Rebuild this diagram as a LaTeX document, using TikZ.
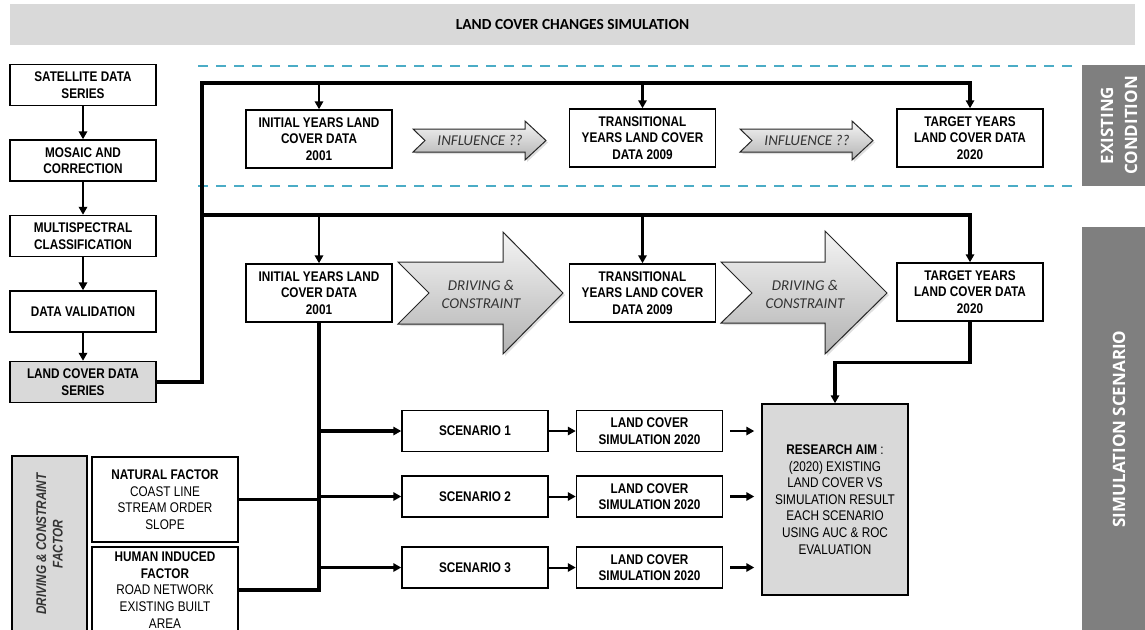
\documentclass[tikz,border=0pt]{standalone}
\usepackage{fontspec}
\setmainfont{Liberation Sans}[FakeStretch=0.84]
\newfontfamily\calfont{Carlito}
\newfontfamily\opfont{Open Sans}
\usetikzlibrary{arrows.meta,positioning,shadows}
\definecolor{guide}{RGB}{75,172,198}
\definecolor{panel}{RGB}{217,217,217}
\definecolor{side}{RGB}{127,127,127}

\begin{document}
\begin{tikzpicture}[x=0.5pt, y=-0.5pt,
  node distance=16.5pt,
  box/.style={draw, line width=0.75pt, fill=white, minimum width=73pt,
              minimum height=20.5pt, inner sep=1pt, align=center,
              font=\bfseries\fontsize{7}{8.3}\selectfont},
  yearbox/.style={box, minimum height=29pt},
  shadebox/.style={box, fill=panel},
  plain/.style={box, font=\fontsize{7}{8.3}\selectfont},
  sidebar/.style={fill=side, text=white, rotate=90, align=center, inner sep=0pt,
                  minimum height=37pt, font=\opfont\bfseries\fontsize{8.5}{12}\selectfont},
  bus/.style={line width=1.7pt},
  arrow/.style={-{Triangle[length=4pt,width=4.2pt]}, line width=1.3pt},
  chevron/.style={draw=black!85, line width=0.5pt, top color=black!4, bottom color=black!30,
                  drop shadow={opacity=0.25, shadow xshift=1pt, shadow yshift=-1pt}},
  chevtext/.style={font=\calfont\itshape\fontsize{7.5}{9}\selectfont, text=black!80, align=center},
  guideline/.style={draw=guide, dash pattern=on 5pt off 4pt, line width=1pt}]

\clip (0,0) rectangle (1145,629);

% title bar
\node[fill=panel, minimum width=562.5pt, minimum height=20.5pt,
      font=\calfont\bfseries\fontsize{7.7}{9}\selectfont] (title) at (572.5,24.5)
  {LAND COVER CHANGES SIMULATION};

% data preparation column
\node[box] (sat) at (83,85) {SATELLITE DATA\\SERIES};
\node[box, below=of sat] (mos) {MOSAIC AND\\CORRECTION};
\node[box, below=of mos] (msc) {MULTISPECTRAL\\CLASSIFICATION};
\node[box, below=of msc] (val) {DATA VALIDATION};
\node[shadebox, below=14pt of val] (lcd) {LAND COVER DATA\\SERIES};

\draw[arrow] (sat) -- (mos);
\draw[arrow] (mos) -- (msc);
\draw[arrow] (msc) -- (val);
\draw[arrow] (val) -- (lcd);

% existing condition band
\draw[guideline] (198,66) -- (1072,66);
\draw[guideline] (198,186) -- (1072,186);

\node[yearbox] (ini1) at (319,139) {INITIAL YEARS LAND\\COVER DATA\\2001};
\node[yearbox] (trn1) at (642.5,138) {TRANSITIONAL\\YEARS LAND COVER\\DATA 2009};
\node[yearbox] (tgt1) at (970,138) {TARGET YEARS\\LAND COVER DATA\\2020};

\path[chevron] (413,129) -- (525,129) -- (525,121) -- (546,140.5) -- (525,160)
  -- (525,152) -- (413,152) -- (425,140.5) -- cycle;
\path[chevron] (740,129) -- (852,129) -- (852,121) -- (873,140.5) -- (852,160)
  -- (852,152) -- (740,152) -- (752,140.5) -- cycle;
\node[chevtext] (inf1) at (480,140.5) {INFLUENCE ??};
\node[chevtext] (inf2) at (807,140.5) {INFLUENCE ??};

% simulation band
\node[yearbox] (ini2) at (319,293) {INITIAL YEARS LAND\\COVER DATA\\2001};
\node[yearbox] (trn2) at (642.5,293) {TRANSITIONAL\\YEARS LAND COVER\\DATA 2009};
\node[yearbox] (tgt2) at (970,292) {TARGET YEARS\\LAND COVER DATA\\2020};

\path[chevron] (398,262) -- (503,262) -- (503,232) -- (563,293) -- (503,354)
  -- (503,324) -- (398,324) -- (429,293) -- cycle;
\path[chevron] (721,262) -- (825,262) -- (825,231) -- (887,293) -- (825,354)
  -- (825,323) -- (721,323) -- (752,293) -- cycle;
\node[chevtext] (drv1) at (481,294) {DRIVING \&\\CONSTRAINT};
\node[chevtext] (drv2) at (805,294) {DRIVING \&\\CONSTRAINT};

% trunk from the data series
\coordinate (busTop) at (202,83);
\coordinate (busMid) at (202,215);
\draw[arrow, bus] (lcd.east) -| (busTop) -| (tgt1.north);
\draw[arrow] (busTop -| ini1.north) -- (ini1.north);
\draw[arrow] (busTop -| trn1.north) -- (trn1.north);
\draw[arrow, bus] (busMid) -| (tgt2.north);
\draw[arrow] (busMid -| ini2.north) -- (ini2.north);
\draw[arrow] (busMid -| trn2.north) -- (trn2.north);

% scenarios
\node[box] (sc1) at (475,431) {SCENARIO 1};
\node[box] (sc2) at (475,496.5) {SCENARIO 2};
\node[box] (sc3) at (475,567.5) {SCENARIO 3};
\node[box, right=13.5pt of sc1] (lcs1) {LAND COVER\\SIMULATION 2020};
\node[box, right=13.5pt of sc2] (lcs2) {LAND COVER\\SIMULATION 2020};
\node[box, right=13.5pt of sc3] (lcs3) {LAND COVER\\SIMULATION 2020};

\node[plain, fill=panel, minimum height=95.5pt] (aim) at (835,499.5)
  {\textbf{RESEARCH AIM} :\\(2020) EXISTING\\LAND COVER VS\\SIMULATION RESULT\\EACH SCENARIO\\USING AUC \& ROC\\EVALUATION};

% driving factors
\node[shadebox, rotate=90, minimum width=88pt, minimum height=37.5pt,
      font=\bfseries\itshape\fontsize{7}{8.3}\selectfont, text=black!80] (dcf) at (49.5,544)
  {DRIVING \& CONSTRAINT\\FACTOR};
\node[plain, minimum height=42.5pt] (nat) at (165,499.5)
  {\textbf{NATURAL FACTOR}\\COAST LINE\\STREAM ORDER\\SLOPE};
\node[plain, minimum height=43pt] (hum) at (165,590)
  {\textbf{HUMAN INDUCED}\\\textbf{FACTOR}\\ROAD NETWORK\\EXISTING BUILT\\AREA};

\draw[bus] (ini2.south) |- (hum.east);
\draw[bus] (nat.east) -- (nat.east -| ini2.south);
\draw[arrow, bus] (ini2.south |- sc1.west) -- (sc1.west);
\draw[arrow, bus] (ini2.south |- sc2.west) -- (sc2.west);
\draw[arrow, bus] (ini2.south |- sc3.west) -- (sc3.west);

\draw[arrow, line width=1pt] (sc1) -- (lcs1);
\draw[arrow, line width=1pt] (sc2) -- (lcs2);
\draw[arrow, line width=1pt] (sc3) -- (lcs3);
\draw[arrow, shorten <=3.5pt, shorten >=3.5pt] (lcs1.east) -- (lcs1.east -| aim.west);
\draw[arrow, shorten <=3.5pt, shorten >=3.5pt] (lcs2.east) -- (lcs2.east -| aim.west);
\draw[arrow, shorten <=3.5pt, shorten >=3.5pt] (lcs3.east) -- (lcs3.east -| aim.west);
\draw[arrow, bus] (tgt2.south) -- ++(0,41) -| (aim.north);

% side labels
\node[sidebar, minimum width=60.5pt] (exist) at (1119,125.5) {EXISTING\\CONDITION};
\node[sidebar, minimum width=202pt] (simsc) at (1119,429) {SIMULATION SCENARIO};
\end{tikzpicture}
\end{document}
